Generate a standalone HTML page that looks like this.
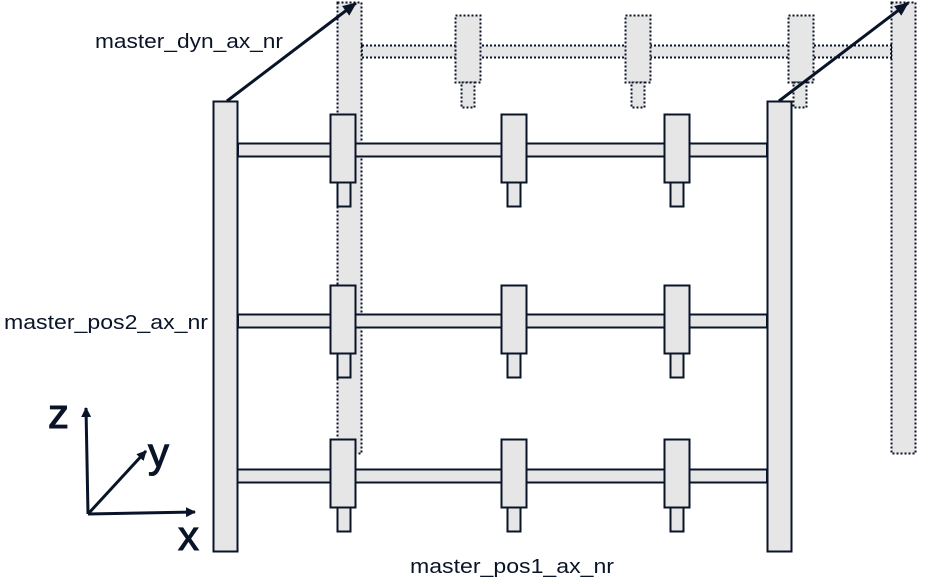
<!DOCTYPE html>
<html><head><meta charset="utf-8"><style>body{margin:0;background:#fff}svg{display:block}</style></head>
<body>
<svg width="930" height="584" viewBox="0 0 930 584" xmlns="http://www.w3.org/2000/svg" font-family="Liberation Sans, sans-serif">
<defs>
<marker id="ah" markerWidth="10" markerHeight="10" refX="9" refY="5" orient="auto" markerUnits="userSpaceOnUse" viewBox="0 0 10 10"><path d="M0,0 L10,5 L0,10 z" fill="#0a1428"/></marker>
<marker id="ah2" markerWidth="14" markerHeight="12" refX="13" refY="6" orient="auto" markerUnits="userSpaceOnUse" viewBox="0 0 14 12"><path d="M0,0 L14,6 L0,12 z" fill="#0a1428"/></marker>
</defs>
<g fill="#e6e6e6" stroke="#0a1428" stroke-width="2" stroke-dasharray="2,2">
<rect x="337.5" y="2.5" width="24" height="451"/>
<rect x="891.5" y="2.5" width="24" height="451"/>
<rect x="362" y="45.5" width="529" height="12"/>
<rect x="455.5" y="15.5" width="25" height="67"/><rect x="461.5" y="82.5" width="13" height="25"/>
<rect x="625.5" y="15.5" width="25" height="67"/><rect x="631.5" y="82.5" width="13" height="25"/>
<rect x="788.5" y="15.5" width="25" height="67"/><rect x="793.5" y="82.5" width="13" height="25"/>
</g>
<g fill="#e6e6e6" stroke="#0a1428" stroke-width="2">
<rect x="238" y="143.5" width="529" height="13"/>
<rect x="238" y="314.5" width="529" height="13"/>
<rect x="237" y="469.5" width="530" height="13"/>
<rect x="213.5" y="101.5" width="24" height="450"/>
<rect x="767.5" y="101.5" width="24" height="450"/>
<g id="r1">
<rect x="330.5" y="114.5" width="25" height="68"/><rect x="337.5" y="182.5" width="13" height="24"/>
<rect x="501.5" y="114.5" width="25" height="68"/><rect x="507.5" y="182.5" width="13" height="24"/>
<rect x="664.5" y="114.5" width="25" height="68"/><rect x="670.5" y="182.5" width="13" height="24"/>
</g>
<use href="#r1" y="171"/>
<use href="#r1" y="325"/>
</g>
<g stroke="#0a1428" stroke-width="3" fill="none">
<line x1="227" y1="101" x2="356" y2="3" marker-end="url(#ah2)"/>
<line x1="779" y1="101" x2="908" y2="3" marker-end="url(#ah2)"/>
<line x1="88" y1="514" x2="86" y2="408" marker-end="url(#ah)"/>
<line x1="88" y1="514" x2="146" y2="451" marker-end="url(#ah)"/>
<line x1="88" y1="514" x2="195" y2="512" marker-end="url(#ah)"/>
</g>
<g fill="#0a1428">
<text x="95" y="48" font-size="20" textLength="188" lengthAdjust="spacingAndGlyphs">master_dyn_ax_nr</text>
<text x="4" y="329" font-size="20" textLength="204" lengthAdjust="spacingAndGlyphs">master_pos2_ax_nr</text>
<text x="410" y="573" font-size="20" textLength="204" lengthAdjust="spacingAndGlyphs">master_pos1_ax_nr</text>
<g stroke="#0a1428" stroke-width="1">
<text x="48" y="428" font-size="42">z</text>
<text x="148" y="467" font-size="42">y</text>
<text x="178" y="550" font-size="42">x</text>
</g>
</g>
</svg>
</body></html>
